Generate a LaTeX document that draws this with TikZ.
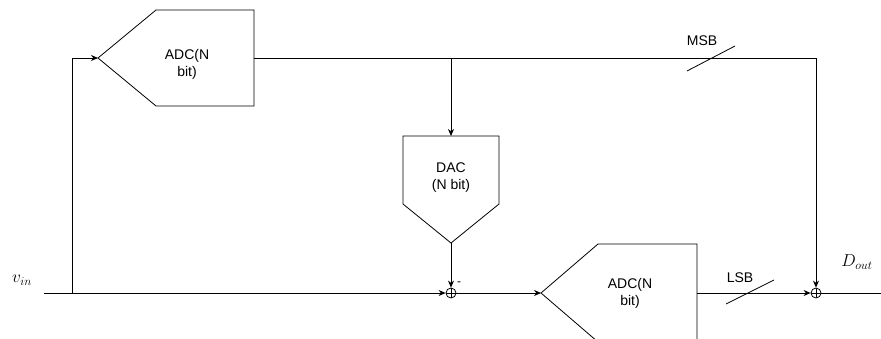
\documentclass[tikz,border=0pt]{standalone}
\usepackage{fontspec}
\setmainfont{Liberation Sans}
\usetikzlibrary{arrows.meta, calc}

\tikzset{
  wire/.style={line width=0.8pt},
  sig/.style={wire, -{Stealth[length=7pt,width=6pt]}},
  block/.style={draw, line width=0.8pt, line join=miter},
  lbl/.style={font=\fontsize{14}{17}\selectfont, align=center, inner sep=0pt},
  mathlbl/.style={font=\fontsize{17}{20}\selectfont, inner sep=0pt},
  summer/.style={circle, draw, line width=0.8pt, minimum size=10pt, inner sep=0pt,
    path picture={\draw[line width=0.6pt]
      (path picture bounding box.north) -- (path picture bounding box.south)
      (path picture bounding box.west) -- (path picture bounding box.east);}}
}

\begin{document}
\begin{tikzpicture}[x=1pt, y=-1pt]
    \useasboundingbox (0,0) rectangle (881,338);
    % Blöcke (Pixelraster 881 x 338, y nach unten)
    \draw[block] (98,58) coordinate (adcMsbIn) -- (156,10) -- (254,10)
      -- (254,106) -- (156,106) -- cycle;
    \coordinate (adcMsbOut) at (254,58);
    \node[lbl] (adcMsbTxt) at (187,64) {ADC(N\\bit)};

    \draw[block] (403,136) -- (499,136) -- (499,204) -- (451,243)
      coordinate (dacOut) -- (403,204) -- cycle;
    \coordinate (dacIn) at (451,136);
    \node[lbl] (dacTxt) at (451,178) {DAC\\(N bit)};

    \draw[block] (541,293) coordinate (adcLsbIn) -- (598,244) -- (697,244)
      -- (697,342) -- (598,342) -- cycle;
    \coordinate (adcLsbOut) at (697,293);
    \node[lbl] (adcLsbTxt) at (630,293) {ADC(N\\bit)};

    % Summierer
    \node[summer] (sumRes) at (451,293) {};
    \node[summer] (sumOut) at (816,293) {};

    % Hilfspunkte
    \coordinate (vin) at (44,293);
    \coordinate (tapIn) at (72,293);
    \coordinate (tapMsb) at (451,58);
    \coordinate (msbCorner) at (816,58);
    \coordinate (dout) at (881,293);

    % Leitungen
    \draw[wire] (vin) -- (tapIn);
    \draw[sig] (tapIn) -- (sumRes.west);
    \draw[sig] (tapIn) |- (adcMsbIn);
    \draw[wire] (adcMsbOut) -- (msbCorner);
    \draw[sig] (tapMsb) -- (dacIn);
    \draw[sig] (msbCorner) -- (sumOut.north);
    \draw[sig] (dacOut) -- (sumRes.north);
    \draw[sig] (sumRes.east) -- (adcLsbIn);
    \draw[sig] (adcLsbOut) -- (sumOut.west);
    \draw[wire] (sumOut.east) -- (dout);

    % Busstriche
    \coordinate (msbSlash) at (711,58);
    \coordinate (lsbSlash) at (750,292);
    \draw[wire] ($(msbSlash)+(-24,13)$) -- ($(msbSlash)+(24,-12)$);
    \draw[wire] ($(lsbSlash)+(-24,12)$) -- ($(lsbSlash)+(24,-12)$);

    % Beschriftungen
    \node[lbl] (msbTxt) at (702,41) {MSB};
    \node[lbl] (lsbTxt) at (740,278) {LSB};
    \node[lbl, font=\fontsize{12}{14}\selectfont] (minusTxt) at (459,284) {-};
    \node[mathlbl] (vinTxt) at (22,280) {$v_{in}$};
    \node[mathlbl] (doutTxt) at (857,262) {$D_{out}$};
  \end{tikzpicture}
\end{document}
